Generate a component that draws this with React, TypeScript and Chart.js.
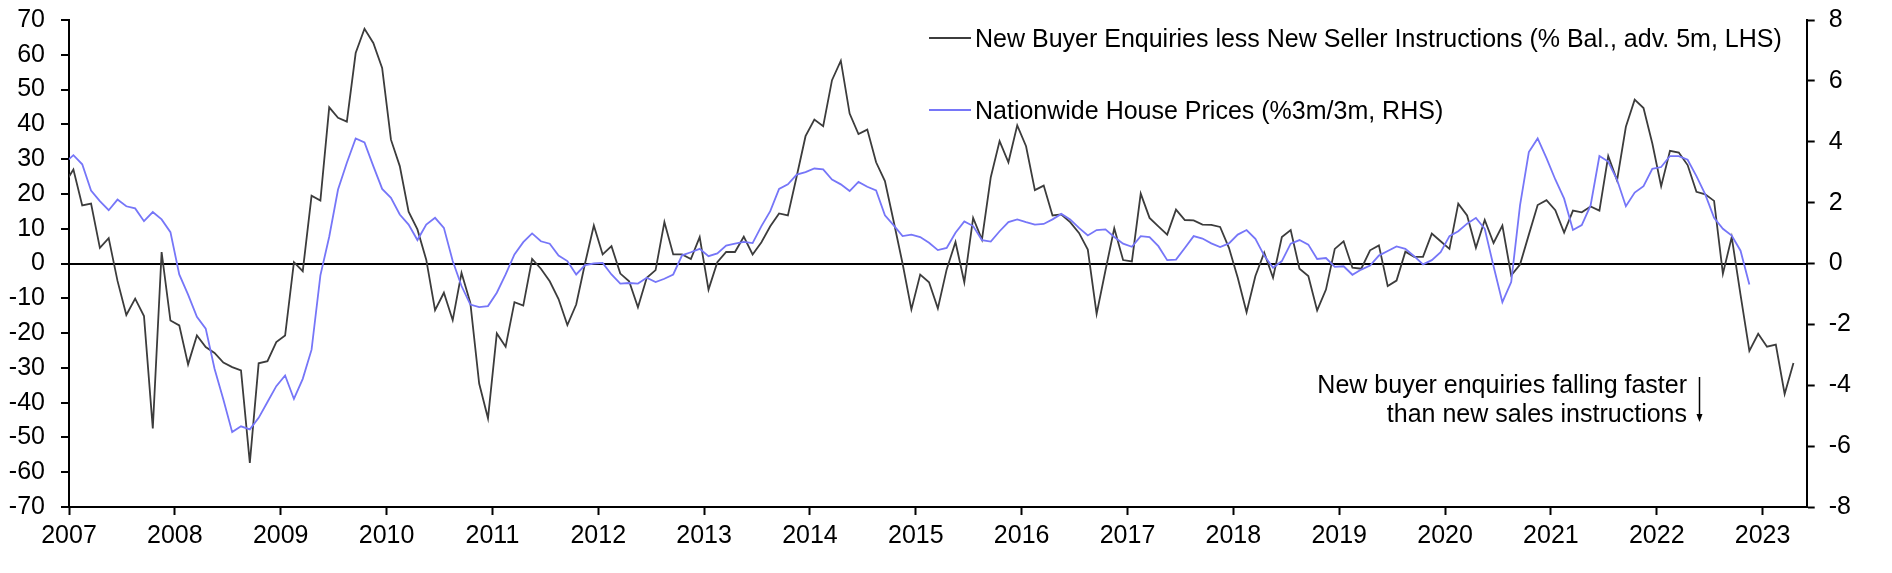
import React, { useEffect, useRef } from 'react';
import { Chart, registerables } from 'chart.js';

Chart.register(...registerables);

// ---------- DATA ----------
const START_YEAR = 2007;
const yearLabels = [2007, 2008, 2009, 2010, 2011, 2012, 2013, 2014, 2015, 2016, 2017, 2018, 2019, 2020, 2021, 2022, 2023];

// Monthly, Dec 2006 .. Apr 2023 (% balance, advanced 5 months, LHS)
const enquiriesLessInstructions = [
  23,
  27.0, 16.7, 17.2, 4.5, 7.3, -5.0, -14.8, -10.1, -15.1, -47.4, 3.3, -16.4,
  -17.8, -29.0, -20.7, -24.0, -25.7, -28.5, -29.8, -30.7, -57.3, -28.7, -28.1, -22.6,
  -20.7, 0.4, -2.2, 19.5, 18.1, 44.9, 41.9, 40.8, 60.5, 67.5, 63.4, 56.2,
  35.6, 28.0, 14.9, 9.8, 1.1, -13.4, -8.4, -16.3, -2.7, -11.3, -34.5, -44.5,
  -20.1, -23.9, -11.1, -12.1, 1.3, -1.5, -5.1, -10.2, -17.7, -11.8, 0.0, 10.9,
  2.6, 5.0, -2.9, -5.1, -12.6, -4.1, -1.9, 11.9, 2.6, 2.6, 1.3, 7.6,
  -7.5, 0.4, 3.3, 3.3, 7.7, 2.6, 6.1, 10.7, 14.4, 13.8, 25.1, 36.6,
  41.4, 39.5, 52.7, 58.3, 43.1, 37.2, 38.5, 29.1, 23.7, 12.0, 0.0, -13.2,
  -3.2, -5.4, -12.9, -1.7, 6.2, -5.4, 13.1, 6.9, 24.8, 35.2, 29.1, 39.7,
  33.7, 21.1, 22.4, 13.8, 14.1, 11.9, 8.8, 4.0, -14.5, -2.0, 10.1, 1.0,
  0.6, 20.1, 13.1, 10.7, 8.3, 15.5, 12.5, 12.4, 11.2, 11.1, 10.5, 4.5,
  -4.1, -14.0, -3.6, 3.1, -4.1, 7.6, 9.6, -1.5, -3.6, -13.5, -7.5, 4.2,
  6.4, -1.2, -1.5, 3.8, 5.2, -6.5, -4.9, 3.4, 1.9, 1.9, 8.6, 6.4,
  4.2, 17.2, 13.8, 4.5, 12.5, 5.9, 10.9, -3.4, -0.3, 8.3, 16.8, 18.2,
  15.3, 8.9, 15.2, 14.7, 16.4, 15.2, 30.9, 23.9, 39.3, 47.1, 44.7, 34.5,
  22.2, 32.4, 31.9, 28.3, 20.6, 19.9, 18.0, -2.9, 7.6, -9.0, -25.1, -20.2,
  -23.9, -23.3, -37.5, -28.6,
];

// Monthly, Dec 2006 .. Nov 2022 (%3m/3m, RHS)
const nationwidePrices = [
  3.3,
  3.56, 3.26, 2.40, 2.05, 1.75, 2.10, 1.88, 1.81, 1.39, 1.69, 1.45, 1.03,
  -0.36, -1.02, -1.75, -2.14, -3.46, -4.47, -5.54, -5.35, -5.45, -5.07, -4.55, -4.03,
  -3.68, -4.45, -3.79, -2.83, -0.39, 0.88, 2.43, 3.31, 4.11, 3.98, 3.20, 2.45,
  2.16, 1.61, 1.28, 0.77, 1.28, 1.50, 1.17, 0.08, -0.74, -1.35, -1.43, -1.40,
  -0.96, -0.36, 0.30, 0.70, 0.99, 0.73, 0.65, 0.26, 0.08, -0.36, -0.05, 0.0,
  0.02, -0.36, -0.66, -0.64, -0.66, -0.47, -0.61, -0.50, -0.36, 0.27, 0.37, 0.48,
  0.24, 0.33, 0.59, 0.65, 0.71, 0.67, 1.23, 1.72, 2.45, 2.60, 2.92, 3.00,
  3.12, 3.09, 2.76, 2.60, 2.38, 2.68, 2.52, 2.40, 1.58, 1.25, 0.90, 0.95,
  0.87, 0.68, 0.44, 0.51, 1.01, 1.38, 1.23, 0.77, 0.72, 1.06, 1.36, 1.45,
  1.36, 1.28, 1.30, 1.45, 1.63, 1.45, 1.17, 0.92, 1.10, 1.12, 0.87, 0.65,
  0.55, 0.90, 0.87, 0.57, 0.11, 0.13, 0.51, 0.90, 0.82, 0.66, 0.54, 0.66,
  0.95, 1.10, 0.81, 0.26, -0.14, 0.08, 0.65, 0.77, 0.62, 0.15, 0.18, -0.11,
  -0.09, -0.37, -0.20, -0.07, 0.26, 0.41, 0.56, 0.48, 0.24, -0.03, 0.11, 0.37,
  0.90, 1.06, 1.31, 1.50, 1.14, -0.09, -1.27, -0.61, 1.91, 3.66, 4.11, 3.46,
  2.76, 2.13, 1.10, 1.26, 1.91, 3.53, 3.35, 2.75, 1.88, 2.33, 2.54, 3.11,
  3.17, 3.53, 3.53, 3.41, 2.87, 2.27, 1.50, 1.14, 0.92, 0.42, -0.69,
];

const seriesLabels = [
  'New Buyer Enquiries less New Seller Instructions (% Bal., adv. 5m, LHS)',
  'Nationwide House Prices (%3m/3m, RHS)',
];
const annotationLines = ['New buyer enquiries falling faster', 'than new sales instructions'];

// ---------- STYLE ----------
const FONT_FAMILY = '"Liberation Sans", Arial, Helvetica, sans-serif';
const FONT_SIZE = 25;
const BLACK_SERIES = '#3c3c3c';
const BLUE_SERIES = '#7676f8';

// Series start in Dec 2006; points sit mid-month; x = months since Jan 2007.
const toPoints = (vals: number[]) => vals.map((v, i) => ({ x: i - 0.5, y: v }));

const overlayPlugin = {
  id: 'overlay',
  afterDraw(chart: any) {
    const ctx = chart.ctx as CanvasRenderingContext2D;
    ctx.save();
    ctx.font = `${FONT_SIZE}px ${FONT_FAMILY}`;
    ctx.fillStyle = '#000';
    ctx.textBaseline = 'alphabetic';
    // legend
    const rows = [{ y: 38 }, { y: 110 }];
    chart.data.datasets.forEach((ds: any, i: number) => {
      const r = rows[i];
      ctx.strokeStyle = ds.borderColor;
      ctx.lineWidth = ds.borderWidth;
      ctx.beginPath();
      ctx.moveTo(929, r.y);
      ctx.lineTo(971, r.y);
      ctx.stroke();
      ctx.textAlign = 'left';
      ctx.fillText(ds.label, 975, r.y + 9);
    });
    // annotation
    ctx.textAlign = 'right';
    ctx.fillText(annotationLines[0], 1687, 393);
    ctx.fillText(annotationLines[1], 1687, 422);
    ctx.strokeStyle = '#000';
    ctx.lineWidth = 1.5;
    ctx.beginPath();
    ctx.moveTo(1699.5, 377);
    ctx.lineTo(1699.5, 416);
    ctx.stroke();
    ctx.fillStyle = '#000';
    ctx.beginPath();
    ctx.moveTo(1696.5, 414);
    ctx.lineTo(1702.5, 414);
    ctx.lineTo(1699.5, 422);
    ctx.closePath();
    ctx.fill();
    ctx.restore();
  },
};

const noPad = (s: any) => {
  s.paddingTop = 0;
  s.paddingBottom = 0;
  s.paddingLeft = 0;
  s.paddingRight = 0;
};

export default function App() {
  const canvasRef = useRef<HTMLCanvasElement | null>(null);

  useEffect(() => {
    document.body.style.margin = '0';
    document.body.style.overflow = 'hidden';
    const canvas = canvasRef.current;
    if (!canvas) return;
    const font = { family: FONT_FAMILY, size: FONT_SIZE };
    const chart = new Chart(canvas, {
      type: 'line',
      data: {
        datasets: [
          {
            label: seriesLabels[0],
            data: toPoints(enquiriesLessInstructions),
            borderColor: BLACK_SERIES,
            borderWidth: 1.8,
            pointRadius: 0,
            yAxisID: 'y',
            order: 2,
          },
          {
            label: seriesLabels[1],
            data: toPoints(nationwidePrices),
            borderColor: BLUE_SERIES,
            borderWidth: 1.8,
            pointRadius: 0,
            yAxisID: 'y2',
            order: 1,
          },
        ],
      },
      options: {
        animation: false,
        responsive: false,
        maintainAspectRatio: false,
        parsing: false as any,
        layout: { padding: { top: 20, left: 0, right: 0, bottom: 0 } },
        plugins: { legend: { display: false }, tooltip: { enabled: false } },
        elements: { line: { tension: 0 } },
        scales: {
          x: {
            type: 'linear',
            min: 0,
            max: 197,
            afterBuildTicks: (s: any) => {
              s.ticks = yearLabels.map((_, i) => ({ value: i * 12 }));
            },
            afterFit: (s: any) => {
              s.height = 66;
              noPad(s);
            },
            ticks: {
              autoSkip: false,
              maxRotation: 0,
              padding: 6,
              color: '#000',
              font,
              callback: (v: any) => String(START_YEAR + Math.round(Number(v) / 12)),
            },
            grid: { drawOnChartArea: false, tickLength: 8, tickColor: '#000', tickWidth: 2 },
            border: { color: '#000', width: 2 },
          },
          y: {
            position: 'left',
            min: -70,
            max: 70,
            afterFit: (s: any) => {
              s.width = 69;
              noPad(s);
            },
            ticks: { stepSize: 10, padding: 16, color: '#000', font },
            grid: {
              color: (c: any) => (c.tick && c.tick.value === 0 ? '#000' : 'rgba(0,0,0,0)'),
              lineWidth: 2,
              tickLength: 8,
              tickColor: '#000',
              tickWidth: 2,
            },
            border: { color: '#000', width: 2 },
          },
          y2: {
            position: 'right',
            min: -8,
            max: 8,
            afterFit: (s: any) => {
              s.width = 85.3;
              noPad(s);
            },
            ticks: { stepSize: 2, padding: 14, color: '#000', font },
            grid: { drawOnChartArea: false, tickLength: 8, tickColor: '#000', tickWidth: 2 },
            border: { color: '#000', width: 2 },
          },
        },
      } as any,
      plugins: [overlayPlugin],
    });
    return () => chart.destroy();
  }, []);

  return <canvas ref={canvasRef} width={1892} height={573} style={{ display: 'block' }} />;
}
